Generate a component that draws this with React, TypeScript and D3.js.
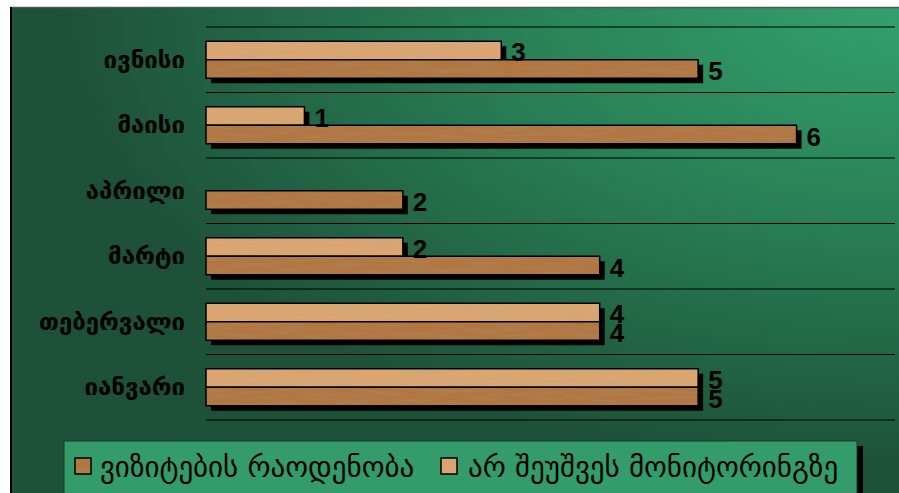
import React from "react";
import * as d3 from "d3";

const categories = ["იანვარი", "თებერვალი", "მარტი", "აპრილი", "მაისი", "ივნისი"];
const seriesNames = ["ვიზიტების რაოდენობა", "არ შეუშვეს მონიტორინგზე"];
const visits: (number | null)[] = [5, 4, 4, 2, 6, 5];
const denied: (number | null)[] = [5, 4, 2, null, 1, 3];
const xDomain = [0, 7];

const W = 899;
const H = 493;

export default function App() {
  const x = d3.scaleLinear().domain(xDomain).range([206, 895]);
  const y = d3.scaleBand<string>().domain([...categories].reverse()).range([27, 420]).paddingInner(0).paddingOuter(0);
  const sub = d3.scaleBand<string>().domain(["denied", "visits"]).range([0, y.bandwidth()]).paddingInner(0).paddingOuter(0.77);
  const seriesData = [
    { key: "denied", values: denied, fill: "url(#woodLight)" },
    { key: "visits", values: visits, fill: "url(#woodDark)" },
  ];
  const bars: { key: string; cat: string; v: number; fill: string }[] = [];
  seriesData.forEach((s) => {
    categories.forEach((c, i) => {
      const v = s.values[i];
      if (v != null) bars.push({ key: s.key, cat: c, v, fill: s.fill });
    });
  });
  const bh = sub.bandwidth();
  const gridYs = [...y.domain().map((c) => y(c) as number), (y(y.domain()[y.domain().length - 1]) as number) + y.bandwidth()];
  const font = "'DejaVu Sans', sans-serif";

  return (
    <svg width={W} height={H} style={{ position: "absolute", left: 0, top: 0 }}>
      <defs>
        <radialGradient id="bg" cx="100%" cy="0%" r="95%" gradientUnits="objectBoundingBox">
          <stop offset="0%" stopColor="#34a06e" />
          <stop offset="40%" stopColor="#2a8559" />
          <stop offset="100%" stopColor="#1d5139" />
        </radialGradient>
        <filter id="grainL" x="0" y="0" width="1" height="1">
          <feTurbulence type="fractalNoise" baseFrequency="0.025 0.3" numOctaves="3" seed="4" result="n" />
          <feColorMatrix in="n" type="matrix" values="0 0 0 0 0.6  0 0 0 0 0.38  0 0 0 0 0.2  1.8 0 0 0 -0.8" result="c" />
          <feComposite in="c" in2="SourceGraphic" operator="in" result="s" />
          <feMerge><feMergeNode in="SourceGraphic" /><feMergeNode in="s" /></feMerge>
        </filter>
        <filter id="grainD" x="0" y="0" width="1" height="1">
          <feTurbulence type="fractalNoise" baseFrequency="0.03 0.3" numOctaves="3" seed="9" result="n" />
          <feColorMatrix in="n" type="matrix" values="0 0 0 0 0.42  0 0 0 0 0.22  0 0 0 0 0.08  2.2 0 0 0 -0.85" result="c" />
          <feComposite in="c" in2="SourceGraphic" operator="in" result="s" />
          <feMerge><feMergeNode in="SourceGraphic" /><feMergeNode in="s" /></feMerge>
        </filter>
        <pattern id="woodLight" patternUnits="userSpaceOnUse" x="0" y="0" width="700" height="40">
          <rect width="700" height="40" fill="#dba671" filter="url(#grainL)" />
        </pattern>
        <pattern id="woodDark" patternUnits="userSpaceOnUse" x="0" y="0" width="700" height="40">
          <rect width="700" height="40" fill="#b27642" filter="url(#grainD)" />
        </pattern>
      </defs>
      <rect x={10} y={7} width={W - 10} height={H - 7} fill="url(#bg)" />
      <line x1={10} x2={W} y1={7.5} y2={7.5} stroke="#555" strokeWidth={1.5} />
      <line x1={11} x2={11} y1={7} y2={H} stroke="#000" strokeWidth={2} />
      {gridYs.map((gy, i) => (
        <line key={i} x1={x(0)} x2={x(xDomain[1])} y1={gy} y2={gy} stroke="#000" strokeWidth={1} />
      ))}
      {bars.map((b, i) => (
        <rect key={"s" + i} x={x(0) + 5} y={(y(b.cat) as number) + (sub(b.key) as number) + 5} width={x(b.v) - x(0)} height={bh} fill="#000" />
      ))}
      {bars.map((b, i) => (
        <rect key={"b" + i} x={x(0)} y={(y(b.cat) as number) + (sub(b.key) as number)} width={x(b.v) - x(0)} height={bh} fill={b.fill} stroke="#000" strokeWidth={1.5} />
      ))}
      {bars.map((b, i) => (
        <text key={"t" + i} x={x(b.v) + 10} y={(y(b.cat) as number) + (sub(b.key) as number) + bh / 2 + 2} dominantBaseline="central" fontFamily="'Liberation Sans', Arial, sans-serif" fontWeight="bold" fontSize={26} fill="#000">
          {b.v}
        </text>
      ))}
      {categories.map((c) => (
        <text key={c} x={185} y={(y(c) as number) + y.bandwidth() / 2} textAnchor="end" dominantBaseline="central" fontFamily={font} fontWeight="bold" fontSize={24} fill="#000">
          {c}
        </text>
      ))}
      <rect x={69} y={446} width={794} height={60} fill="#000" />
      <rect x={64} y={441} width={793} height={60} fill="#339c6a" stroke="#1a3a28" strokeWidth={1} />
      <rect x={75} y={458} width={16} height={16} fill="url(#woodDark)" stroke="#000" strokeWidth={1.5} />
      <text x={100} y={467} dominantBaseline="central" fontFamily={font} fontSize={29} fill="#000">{seriesNames[0]}</text>
      <rect x={441} y={458} width={16} height={16} fill="url(#woodLight)" stroke="#000" strokeWidth={1.5} />
      <text x={468} y={467} dominantBaseline="central" fontFamily={font} fontSize={29} fill="#000">{seriesNames[1]}</text>
    </svg>
  );
}
